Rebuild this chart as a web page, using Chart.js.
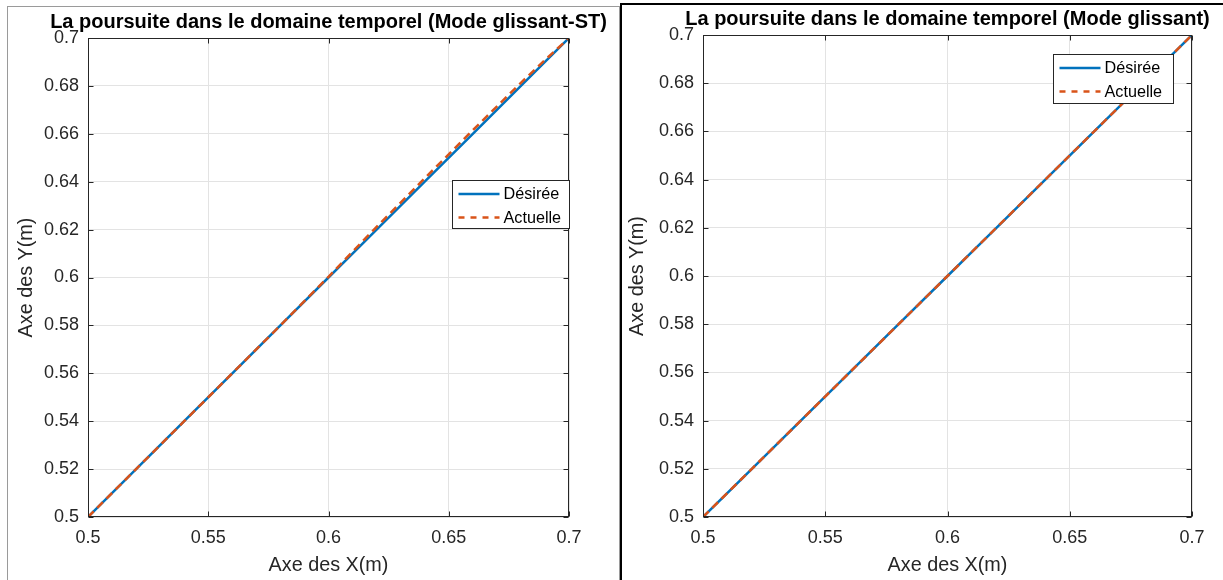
<!DOCTYPE html>
<html>
<head>
<meta charset="utf-8">
<script src="https://cdn.jsdelivr.net/npm/chart.js@4.4.0/dist/chart.umd.min.js"></script>
<style>
    body { margin: 0; width: 1223px; height: 580px; overflow: hidden; background: #fff; position: relative; }
    .panel { position: absolute; box-sizing: border-box; }
    #panelLeft { left: 7px; top: 6px; width: 613px; height: 600px; border: 1px solid #9a9a9a; }
    #panelRight { left: 620px; top: 3px; width: 640px; height: 600px; border-left: 2px solid #000; border-top: 2px solid #000; }
    canvas { position: absolute; }
    #chartLeft { left: 7px; top: 6px; }
    #chartRight { left: 622px; top: 3px; }
</style>
</head>
<body>
<div class="panel" id="panelLeft"></div>
<div class="panel" id="panelRight"></div>
<canvas id="chartLeft" width="643" height="574"></canvas>
<canvas id="chartRight" width="651" height="577"></canvas>
<script>
// tick labels
const xTicks = [0.5, 0.55, 0.6, 0.65, 0.7];
const yTicks = [0.5, 0.52, 0.54, 0.56, 0.58, 0.6, 0.62, 0.64, 0.66, 0.68, 0.7];

// trajectory samples (X in m)
const pathX = [0.5, 0.52, 0.54, 0.56, 0.58, 0.6, 0.61, 0.62, 0.64, 0.66, 0.68, 0.69, 0.7];
const desiredY = [0.5, 0.52, 0.54, 0.56, 0.58, 0.6, 0.61, 0.62, 0.64, 0.66, 0.68, 0.69, 0.7];
// Mode glissant-ST : slight overshoot above the reference in the upper part
const actualStY = [0.5, 0.52, 0.54, 0.56, 0.58, 0.6003, 0.6108, 0.6211, 0.6414, 0.6615, 0.6813, 0.6908, 0.7];
// Mode glissant : on top of the reference
const actualY = [0.5, 0.52, 0.54, 0.56, 0.58, 0.6, 0.61, 0.62, 0.64, 0.66, 0.68, 0.69, 0.7];

const seriesLabels = ['Désirée', 'Actuelle'];
const BLUE = '#0072BD';
const ORANGE = '#D95319';
const AXIS = '#262626';

Chart.defaults.font.family = "'Liberation Sans', Arial, Helvetica, sans-serif";
Chart.defaults.color = AXIS;

// matlab style box with inward ticks
const boxPlugin = {
    id: 'matBox',
    afterDatasetsDraw(chart) {
        const { ctx, chartArea: a, scales } = chart;
        const l = Math.round(a.left) + 0.5, r = Math.round(a.right) - 0.5;
        const t = Math.round(a.top) + 0.5, b = Math.round(a.bottom) - 0.5;
        ctx.save();
        ctx.strokeStyle = AXIS;
        ctx.lineWidth = 1;
        ctx.strokeRect(l, t, r - l, b - t);
        ctx.beginPath();
        scales.x.ticks.forEach((tk) => {
            const px = Math.round(scales.x.getPixelForValue(tk.value)) + 0.5;
            ctx.moveTo(px, b); ctx.lineTo(px, b - 5);
            ctx.moveTo(px, t); ctx.lineTo(px, t + 5);
        });
        scales.y.ticks.forEach((tk) => {
            const py = Math.round(scales.y.getPixelForValue(tk.value)) + 0.5;
            ctx.moveTo(l, py); ctx.lineTo(l + 5, py);
            ctx.moveTo(r, py); ctx.lineTo(r - 5, py);
        });
        ctx.stroke();
        ctx.restore();
    },
};

// legend drawn inside the axes
const innerLegend = {
    id: 'innerLegend',
    afterDraw(chart, args, opts) {
        const { ctx, chartArea: a } = chart;
        const w = opts.width, h = opts.height;
        const x0 = Math.round(a.right - opts.right - w) + 0.5;
        const y0 = Math.round(a.top + opts.top) + 0.5;
        ctx.save();
        ctx.fillStyle = '#fff';
        ctx.fillRect(x0, y0, w, h);
        ctx.strokeStyle = AXIS;
        ctx.lineWidth = 1;
        ctx.strokeRect(x0, y0, w, h);
        ctx.font = "16.2px 'Liberation Sans', Arial, sans-serif";
        ctx.textBaseline = 'middle';
        ctx.textAlign = 'left';
        chart.data.datasets.forEach((ds, i) => {
            const yy = y0 + 13.5 + i * 23.5;
            ctx.beginPath();
            ctx.strokeStyle = ds.borderColor;
            ctx.lineWidth = ds.borderWidth;
            ctx.setLineDash(ds.borderDash ? [6, 6] : []);
            ctx.moveTo(x0 + 6, yy);
            ctx.lineTo(x0 + 47, yy);
            ctx.stroke();
            ctx.setLineDash([]);
            ctx.fillStyle = '#000';
            ctx.fillText(ds.label, x0 + 51, yy + 1);
        });
        ctx.restore();
    },
};

const toPoints = (ys) => pathX.map((x, i) => ({ x: x, y: ys[i] }));

const makeChart = (canvasId, titleText, actual, legendPos, yTitlePad) => {
    const ctx = document.getElementById(canvasId).getContext('2d');
    return new Chart(ctx, {
        type: 'scatter',
        data: {
            datasets: [{
                label: seriesLabels[0],
                data: toPoints(desiredY),
                showLine: true,
                borderColor: BLUE,
                backgroundColor: BLUE,
                borderWidth: 2.5,
                pointRadius: 0,
                order: 1,
            }, {
                label: seriesLabels[1],
                data: toPoints(actual),
                showLine: true,
                borderColor: ORANGE,
                backgroundColor: ORANGE,
                borderWidth: 2.5,
                borderDash: [8, 5],
                pointRadius: 0,
                order: 0,
            }],
        },
        options: {
            responsive: false,
            animation: false,
            devicePixelRatio: 1,
            layout: { padding: 0 },
            plugins: {
                legend: { display: false },
                tooltip: { enabled: false },
                title: {
                    display: true,
                    text: titleText,
                    color: '#000',
                    font: { size: 20, weight: 'bold' },
                    padding: { top: 4, bottom: 4 },
                },
                innerLegend: legendPos,
            },
            scales: {
                x: {
                    type: 'linear',
                    min: 0.5,
                    max: 0.7,
                    afterBuildTicks: (s) => { s.ticks = xTicks.map((v) => ({ value: v })); },
                    afterFit: (s) => { s.height = 63; },
                    grid: { color: '#e3e3e3', drawTicks: false },
                    border: { display: false },
                    ticks: {
                        font: { size: 18 },
                        color: AXIS,
                        padding: 10,
                        maxRotation: 0,
                        autoSkip: false,
                        callback: (v) => String(v),
                    },
                    title: {
                        display: true,
                        text: 'Axe des X(m)',
                        color: AXIS,
                        font: { size: 19.8 },
                        padding: { top: 0, bottom: 3 },
                    },
                },
                y: {
                    type: 'linear',
                    min: 0.5,
                    max: 0.7,
                    afterBuildTicks: (s) => { s.ticks = yTicks.map((v) => ({ value: v })); },
                    afterFit: (s) => { s.width = 81; },
                    grid: { color: '#e3e3e3', drawTicks: false },
                    border: { display: false },
                    ticks: {
                        font: { size: 18 },
                        color: AXIS,
                        padding: 9,
                        autoSkip: false,
                        callback: (v) => String(v),
                    },
                    title: {
                        display: true,
                        text: 'Axe des Y(m)',
                        color: AXIS,
                        font: { size: 19.8 },
                        padding: { top: yTitlePad, bottom: 0 },
                    },
                },
                // empty right axis so the title stays centred on the axes
                yPad: {
                    type: 'linear',
                    position: 'right',
                    grid: { display: false },
                    border: { display: false },
                    ticks: { display: false },
                    afterFit: (s) => { s.width = 81; },
                },
            },
        },
        plugins: [boxPlugin, innerLegend],
    });
};

window.addEventListener('load', () => {
    makeChart('chartLeft', 'La poursuite dans le domaine temporel (Mode glissant-ST)', actualStY,
        { right: 0, top: 142, width: 117, height: 48 }, 8);
    makeChart('chartRight', 'La poursuite dans le domaine temporel (Mode glissant)', actualY,
        { right: 19, top: 19, width: 120, height: 49 }, 4);
});
</script>
</body>
</html>
